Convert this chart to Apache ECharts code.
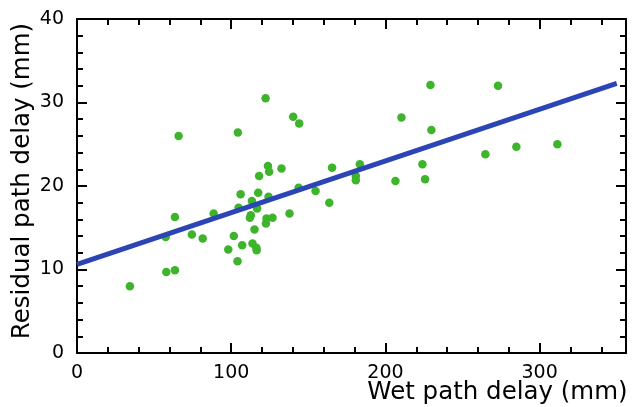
<!DOCTYPE html>
<html>
<head>
<meta charset="utf-8">
<script src="https://cdn.jsdelivr.net/npm/echarts@6/dist/echarts.min.js"></script>
<style>
html,body{margin:0;padding:0;background:#fff;}
#chart{width:632px;height:407px;}
</style>
</head>
<body>
<div id="chart"></div>
<script>
// Wet path delay (mm)
var wetDelay = [34.3, 57.9, 63.5, 57.5, 63.5, 74.5, 81.5, 88.6, 98.1, 101.7, 104.1, 107.1, 106.1, 104.8,
  65.9, 104.3, 122.3, 140.2, 144.1, 123.8, 124.6, 132.6, 118.1, 165.4, 154.7, 163.6, 143.7, 117.5,
  124.2, 113.4, 116.8, 112.7, 112.1, 122.9, 126.8, 122.5, 137.8, 115.1, 113.8, 116.3, 116.5,
  229.2, 273.0, 210.4, 229.8, 264.8, 284.9, 311.5, 183.4, 180.8, 180.8, 206.5, 224.0, 225.7];
// Residual path delay (mm)
var residualDelay = [8.0, 9.7, 9.9, 13.9, 16.3, 14.2, 13.7, 16.7, 12.4, 14.0, 11.0, 12.9, 19.0, 17.4,
  26.0, 26.4, 30.5, 28.3, 27.5, 22.4, 21.7, 22.1, 21.2, 22.2, 19.4, 18.0, 19.8, 19.2,
  18.7, 18.2, 17.3, 16.5, 16.2, 16.1, 16.2, 15.5, 16.7, 14.8, 13.1, 12.6, 12.3,
  32.1, 32.0, 28.2, 26.7, 23.8, 24.7, 25.0, 22.6, 21.2, 20.7, 20.6, 22.6, 20.8];
// Regression line end points
var fitX = [0, 350];
var fitY = [10.6, 32.3];

var xMin = 0, xMax = 356, xMajor = 100, xMinor = 20;
var yMin = 0, yMax = 40, yMajor = 10, yMinor = 2;
var xTitle = 'Wet path delay (mm)';
var yTitle = 'Residual path delay (mm)';

var scatterData = wetDelay.map(function (x, i) { return [x, residualDelay[i]]; });
var fitData = fitX.map(function (x, i) { return [x, fitY[i]]; });

var font = 'DejaVu Sans';
function xAx(pos, interval, len, labels, line, name) {
  return {
    type: 'value', position: pos, min: xMin, max: xMax, interval: interval,
    name: name || '', nameLocation: 'middle', nameGap: 27, nameMoveOverlap: false,
    nameTextStyle: { fontFamily: font, fontSize: 24.5, color: '#000', padding: [0, 0, 0, 292] },
    axisLine: { show: line, onZero: false, lineStyle: { color: '#000', width: 2 } },
    axisTick: { show: true, inside: true, length: len, lineStyle: { color: '#000', width: 2 } },
    axisLabel: { show: labels, fontFamily: font, fontSize: 19, color: '#000', margin: 11,
      showMaxLabel: false },
    splitLine: { show: false }
  };
}
function yAx(pos, interval, len, labels, line, name) {
  return {
    type: 'value', position: pos, min: yMin, max: yMax, interval: interval,
    name: name || '', nameLocation: 'middle', nameGap: 42, nameMoveOverlap: false,
    nameTextStyle: { fontFamily: font, fontSize: 24.5, color: '#000', padding: [0, 0, 0, 10] },
    axisLine: { show: line, onZero: false, lineStyle: { color: '#000', width: 2 } },
    axisTick: { show: true, inside: true, length: len, lineStyle: { color: '#000', width: 2 } },
    axisLabel: { show: labels, fontFamily: font, fontSize: 19, color: '#000', margin: 13 },
    splitLine: { show: false }
  };
}

var chart = echarts.init(document.getElementById('chart'), null, { renderer: 'canvas' });
chart.setOption({
  animation: false,
  backgroundColor: '#fff',
  grid: { left: 77, right: 6, top: 19, bottom: 54, containLabel: false, outerBoundsMode: 'none' },
  xAxis: [
    xAx('bottom', xMajor, 10, true, true, xTitle),
    xAx('bottom', xMinor, 6, false, false),
    xAx('top', xMajor, 10, false, true),
    xAx('top', xMinor, 6, false, false)
  ],
  yAxis: [
    yAx('left', yMajor, 10, true, true, yTitle),
    yAx('left', yMinor, 6, false, false),
    yAx('right', yMajor, 10, false, true),
    yAx('right', yMinor, 6, false, false)
  ],
  series: [
    {
      type: 'scatter', xAxisIndex: 0, yAxisIndex: 0, data: scatterData,
      symbol: 'circle', symbolSize: 8.5, itemStyle: { color: '#3db42b', opacity: 1 }, z: 2
    },
    {
      type: 'line', xAxisIndex: 0, yAxisIndex: 0, data: fitData, showSymbol: false, symbol: 'none',
      lineStyle: { color: '#2b45b5', width: 5 }, z: 3
    }
  ]
});
</script>
</body>
</html>
